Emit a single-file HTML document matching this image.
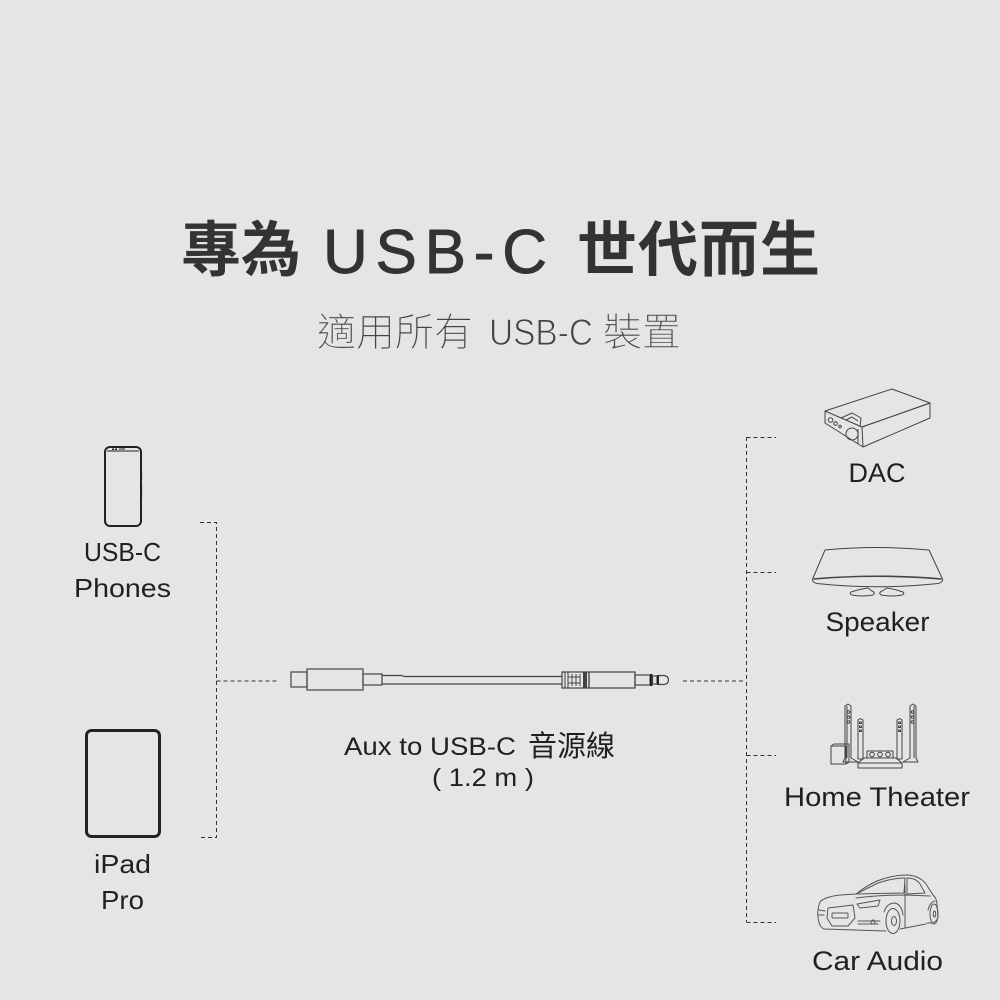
<!DOCTYPE html>
<html>
<head>
<meta charset="utf-8">
<style>
html,body{margin:0;padding:0;background:#e5e5e6;}
svg{display:block;}
</style>
</head>
<body>
<svg width="1000" height="1000" viewBox="0 0 1000 1000" xmlns="http://www.w3.org/2000/svg">
<rect x="0" y="0" width="1000" height="1000" fill="#e5e5e6"/>

<!-- Title -->
<g fill="#333" font-family="'Liberation Sans','Noto Sans CJK TC',sans-serif">
  <text x="181" y="271" font-size="60" font-weight="700">專為</text>
  <text x="323" y="273" font-size="62" textLength="224" lengthAdjust="spacing" stroke="#333" stroke-width="0.9">USB-C</text>
  <text x="577" y="271" font-size="60" font-weight="700" letter-spacing="1">世代而生</text>
</g>

<!-- Subtitle -->
<g fill="#444" font-family="'Liberation Sans','Noto Sans CJK TC',sans-serif" font-weight="300">
  <text x="317" y="346" font-size="39" stroke="#e5e5e6" stroke-width="0.6">適用所有</text>
  <text x="489" y="345" font-size="37" textLength="104" lengthAdjust="spacingAndGlyphs" stroke="#e5e5e6" stroke-width="1">USB-C</text>
  <text x="603" y="346" font-size="39" stroke="#e5e5e6" stroke-width="0.6">裝置</text>
</g>

<!-- Dashed connectors -->
<g stroke="#333" stroke-width="1" fill="none" stroke-dasharray="4 3">
  <path d="M200,522.5 H216.5 V837.5 H200"/>
  <path d="M216.5,681 H277"/>
  <path d="M683,681 H746"/>
  <path d="M746.5,437 V922"/>
  <path d="M746.5,437.5 H776"/>
  <path d="M746.5,572.5 H776"/>
  <path d="M746.5,755.5 H776"/>
  <path d="M746.5,922.5 H776"/>
</g>

<!-- Phone icon -->
<g stroke="#222" fill="none">
  <rect x="105" y="447" width="36" height="79" rx="5" stroke-width="2"/>
  <path d="M107,451 H139" stroke-width="1"/>
  <rect x="112" y="448.5" width="2" height="1.5" fill="#222" stroke="none"/>
  <rect x="115" y="448.5" width="2" height="1.5" fill="#222" stroke="none"/>
  <rect x="119" y="448.5" width="6" height="1" fill="#222" stroke="none"/>
  <path d="M141.5,472 V480 M141.5,485 V498" stroke-width="1.2"/>
</g>

<!-- iPad icon -->
<rect x="86.5" y="730.5" width="73" height="106" rx="5" stroke="#222" stroke-width="3" fill="none"/>

<!-- Left labels -->
<g fill="#231f20" font-family="'Liberation Sans','Noto Sans CJK TC',sans-serif" font-size="26" text-anchor="middle">
  <text x="122.5" y="561" textLength="77" lengthAdjust="spacingAndGlyphs">USB-C</text>
  <text x="122.5" y="597" textLength="97" lengthAdjust="spacingAndGlyphs">Phones</text>
  <text x="122.5" y="873" textLength="57" lengthAdjust="spacingAndGlyphs">iPad</text>
  <text x="122.5" y="909" textLength="43" lengthAdjust="spacingAndGlyphs">Pro</text>
</g>

<!-- Cable -->
<g stroke="#444" stroke-width="1.2" fill="none">
  <rect x="291" y="672" width="16" height="15"/>
  <rect x="307" y="669" width="56" height="21"/>
  <rect x="363" y="674" width="19" height="11"/>
  <path d="M382,675.5 H402 L404,676.5 H562 M382,684 H562"/>
  <rect x="562" y="672" width="27" height="16"/>
  <path d="M565,672 V688 M568,672 V688 M572,674 V686 M576,674 V686 M580,674 V686" stroke-width="1"/>
  <path d="M568,677 H580 M568,683 H580" stroke-width="1"/>
  <rect x="583" y="672" width="4" height="16" fill="#444" stroke="none"/>
  <rect x="589" y="672" width="46" height="16"/>
  <rect x="635" y="675" width="15" height="10"/>
  <rect x="650" y="674" width="2.5" height="12" fill="#222" stroke="none"/>
  <rect x="652.5" y="676" width="4.5" height="8"/>
  <rect x="657" y="675" width="2" height="10" fill="#222" stroke="none"/>
  <path d="M659,675.5 H664 Q668.5,676 668.5,680 Q668.5,684 664,684.5 H659"/>
</g>

<!-- Center label -->
<g fill="#231f20" font-family="'Liberation Sans','Noto Sans CJK TC',sans-serif">
  <text x="344" y="755" font-size="25" textLength="172" lengthAdjust="spacingAndGlyphs">Aux to USB-C</text>
  <text x="528" y="756" font-size="29">音源線</text>
  <text x="432" y="786" font-size="25" textLength="102" lengthAdjust="spacingAndGlyphs">( 1.2 m )</text>
</g>

<!-- DAC icon -->
<g stroke="#444" stroke-width="1" fill="none" stroke-linejoin="round">
  <path d="M825,411 L892,389 L930,403 L862,427 Z"/>
  <path d="M862,427 L930,403 L930,418 L863,447"/>
  <path d="M825,411 L825,423 L863,447 L862,427"/>
  <path d="M841,418 L852,413 L861,418 L860,427"/>
  <path d="M846,420 L852,417 L858,421"/>
  <circle cx="852" cy="434" r="6"/>
  <circle cx="830.5" cy="420" r="2.3"/>
  <circle cx="835.5" cy="423.5" r="1.8"/>
  <circle cx="840" cy="426.5" r="1.3"/>
  <path d="M858,429 L858,444"/>
</g>

<!-- Speaker icon -->
<g stroke="#444" stroke-width="1" fill="none" stroke-linejoin="round">
  <path d="M825,550 Q877,545 929,550 L942,578 Q944,582 938,583.5 Q877,590 817,583.5 Q811,582 813,578 Z"/>
  <path d="M813.5,579 Q877,573.5 941.5,579" stroke-width="1.6"/>
  <path d="M868,588 Q860,589 851,592 Q849,594 852,595 Q862,597 873,595 Q876,593 872,591 Z"/>
  <path d="M887,588 Q895,589 903,592 Q905,594 902,595 Q892,597 881,595 Q878,593 882,591 Z"/>
</g>

<!-- Home theater icon -->
<g stroke="#444" stroke-width="1" fill="none" stroke-linejoin="round">
  <path d="M845,706 L848,704 L851,706 V758 L858,762 H843 L845,758 Z"/>
  <path d="M847,706 V758"/>
  <circle cx="848.5" cy="712" r="1.3"/>
  <circle cx="848.5" cy="717" r="1.3"/>
  <circle cx="848.5" cy="722" r="1.3"/>
  <path d="M910,706 L913,704 L916,706 V758 L918,762 H903 L910,758 Z"/>
  <path d="M914,706 V758"/>
  <circle cx="912.5" cy="712" r="1.3"/>
  <circle cx="912.5" cy="717" r="1.3"/>
  <circle cx="912.5" cy="722" r="1.3"/>
  <path d="M858,720 L860.5,718.5 L863,720 V759 H858 Z"/>
  <rect x="859.5" y="722" width="2" height="1.5"/>
  <rect x="859.5" y="726" width="2" height="1.5"/>
  <rect x="859.5" y="730" width="2" height="1.5"/>
  <path d="M897,720 L899.5,718.5 L902,720 V759 H897 Z"/>
  <rect x="898.5" y="722" width="2" height="1.5"/>
  <rect x="898.5" y="726" width="2" height="1.5"/>
  <rect x="898.5" y="730" width="2" height="1.5"/>
  <rect x="831" y="746" width="15" height="18"/>
  <path d="M831,746 L834,744 H849 V762 L846,764"/>
  <rect x="867" y="751" width="26" height="7"/>
  <circle cx="872" cy="754.5" r="2.3"/>
  <circle cx="880" cy="754.5" r="2.3"/>
  <circle cx="888" cy="754.5" r="2.3"/>
  <path d="M864,758 H896 L902,763 V768 H858 V763 Z"/>
  <path d="M858,763 H902"/>
</g>

<!-- Car icon -->
<g stroke="#555" stroke-width="1" fill="none" stroke-linejoin="round" stroke-linecap="round">
  <path d="M820,902 Q824,897 840,895 L856,894 Q866,886 877,881 Q892,875 908,875 Q920,876 926,884 L933,895 Q937,899 937,904 L938,917 Q937,922 932,923 L927,923"/>
  <path d="M820,902 Q817,910 818,917 Q819,927 824,929 L886,931"/>
  <path d="M900,929 L926,924"/>
  <path d="M856,894 L878,883 Q893,878 905,878 L904,893 Z"/>
  <path d="M907,878 Q916,878 920,884 L925,893 L907,894 Z"/>
  <path d="M905,885 V927"/>
  <path d="M856,898 Q880,895 906,895 L930,896"/>
  <path d="M828,908 L853,905 L855,918 L848,926 L832,926 L827,918 Z"/>
  <rect x="832" y="913" width="16" height="5" rx="1"/>
  <path d="M857,904 L880,900 L878,906 L860,908 Z"/>
  <path d="M858,921 L880,921 M858,924 L878,924"/>
  <circle cx="873" cy="922" r="2"/>
  <path d="M819,910 L825,911 M819,915 L824,915"/>
  <ellipse cx="893" cy="921" rx="7" ry="12.5"/>
  <ellipse cx="894" cy="921" rx="2.5" ry="4.5"/>
  <path d="M884,912 Q887,903 895,903 Q902,905 903,915"/>
  <ellipse cx="934" cy="914" rx="4" ry="10"/>
  <ellipse cx="934.5" cy="914" rx="1.2" ry="3"/>
  <path d="M928,910 Q930,902 935,901"/>
</g>

<!-- Right labels -->
<g fill="#231f20" font-family="'Liberation Sans','Noto Sans CJK TC',sans-serif" font-size="27" text-anchor="middle">
  <text x="877" y="482" textLength="57" lengthAdjust="spacingAndGlyphs">DAC</text>
  <text x="877.5" y="631" textLength="104" lengthAdjust="spacingAndGlyphs">Speaker</text>
  <text x="877" y="806" textLength="186" lengthAdjust="spacingAndGlyphs">Home Theater</text>
  <text x="877.5" y="970" textLength="131" lengthAdjust="spacingAndGlyphs">Car Audio</text>
</g>
</svg>
</body>
</html>
